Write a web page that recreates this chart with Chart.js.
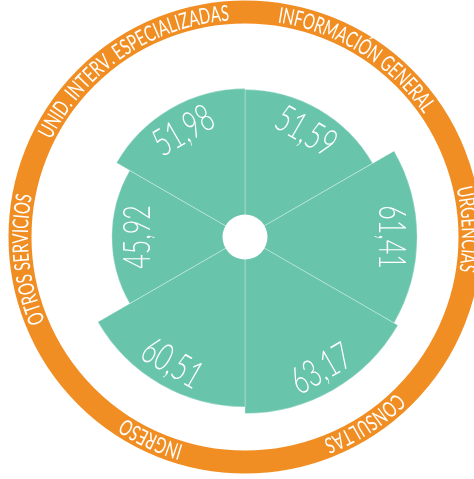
<!DOCTYPE html>
<html>
<head>
<meta charset="utf-8">
<script src="https://cdn.jsdelivr.net/npm/chart.js@4.4.0/dist/chart.umd.min.js"></script>
<style>
  html, body { margin: 0; padding: 0; background: #fff; }
  #wrap { width: 474px; height: 479px; position: relative; }
</style>
</head>
<body>
<div id="wrap"><canvas id="myChart"></canvas></div>
<script>
// Datos (en el orden de las agujas del reloj, empezando arriba)
const servicios = ['INFORMACIÓN GENERAL', 'URGENCIAS', 'CONSULTAS', 'INGRESO', 'OTROS SERVICIOS', 'UNID. INTERV. ESPECIALIZADAS']
const valores = [51.59, 61.41, 63.17, 60.51, 45.92, 51.98]

const verde = '#68C4AB'
const naranja = '#F18E23'
const fuente = 'Lato, "Open Sans", sans-serif'
// pequeño desplazamiento (grados) de cada rótulo del anillo
const ajusteAngulo = [2, -2, -3, -5, -6, -4]

// texto en arco, sentido horario, letras hacia fuera
function textoCurvo(ctx, txt, cx, cy, radio, angCentro, escala) {
  const total = ctx.measureText(txt).width * escala
  let ang = angCentro - total / 2 / radio
  for (const c of txt) {
    const w = ctx.measureText(c).width * escala
    const a = ang + w / 2 / radio
    ctx.save()
    ctx.translate(cx + radio * Math.sin(a), cy - radio * Math.cos(a))
    ctx.rotate(a)
    ctx.scale(escala, 1)
    ctx.fillText(c, 0, 0)
    ctx.restore()
    ang += w / radio
  }
}

const anillo = {
  id: 'anillo',
  beforeDatasetsDraw(chart) {
    const r = chart.scales.r
    const ctx = chart.ctx
    const cx = r.xCenter, cy = r.yCenter
    ctx.save()
    ctx.beginPath()
    ctx.arc(cx, cy, 225, 0, Math.PI * 2)
    ctx.strokeStyle = naranja
    ctx.lineWidth = 23
    ctx.stroke()

    ctx.fillStyle = '#fff'
    ctx.font = '400 22px ' + fuente
    ctx.textAlign = 'center'
    ctx.textBaseline = 'alphabetic'
    const paso = Math.PI * 2 / servicios.length
    servicios.forEach((s, i) => {
      const mid = paso * (i + 0.5) + ajusteAngulo[i] * Math.PI / 180
      textoCurvo(ctx, s, cx, cy, 217, mid, 0.68)
    })
    ctx.restore()
  },
  afterDatasetsDraw(chart) {
    const r = chart.scales.r
    const ctx = chart.ctx
    const cx = r.xCenter, cy = r.yCenter
    ctx.save()
    // hueco central
    ctx.beginPath()
    ctx.arc(cx, cy, 22.5, 0, Math.PI * 2)
    ctx.fillStyle = '#fff'
    ctx.fill()

    // valores
    ctx.fillStyle = '#fff'
    ctx.font = '300 38px ' + fuente
    ctx.textAlign = 'center'
    ctx.textBaseline = 'alphabetic'
    const paso = Math.PI * 2 / valores.length
    valores.forEach((v, i) => {
      const mid = paso * (i + 0.5)
      const dist = r.getDistanceFromCenterForValue(v) - 25
      let rot = mid
      if (mid > Math.PI / 2 + 0.01 && mid < Math.PI * 1.5 - 0.01) rot = mid - Math.PI
      ctx.save()
      ctx.translate(cx + dist * Math.sin(mid), cy - dist * Math.cos(mid))
      ctx.rotate(rot)
      ctx.scale(0.66, 1)
      ctx.fillText(v.toFixed(2).replace('.', ','), 0, 13)
      ctx.restore()
    })
    ctx.restore()
  }
}

const ctx = document.getElementById('myChart').getContext('2d')
const myChart = new Chart(ctx, {
  type: 'polarArea',
  data: {
    labels: servicios,
    datasets: [{
      data: valores,
      backgroundColor: verde,
      borderColor: 'rgba(255,255,255,0.3)',
      borderWidth: 1
    }]
  },
  options: {
    responsive: true,
    maintainAspectRatio: false,
    animation: false,
    layout: { padding: { left: 16, right: 0, top: 0, bottom: 4 } },
    plugins: { legend: { display: false }, tooltip: { enabled: false } },
    scales: {
      r: {
        min: -7,
        max: 84,
        ticks: { display: false },
        grid: { display: false },
        angleLines: { display: false },
        pointLabels: { display: false }
      }
    }
  },
  plugins: [anillo]
})
</script>
</body>
</html>
